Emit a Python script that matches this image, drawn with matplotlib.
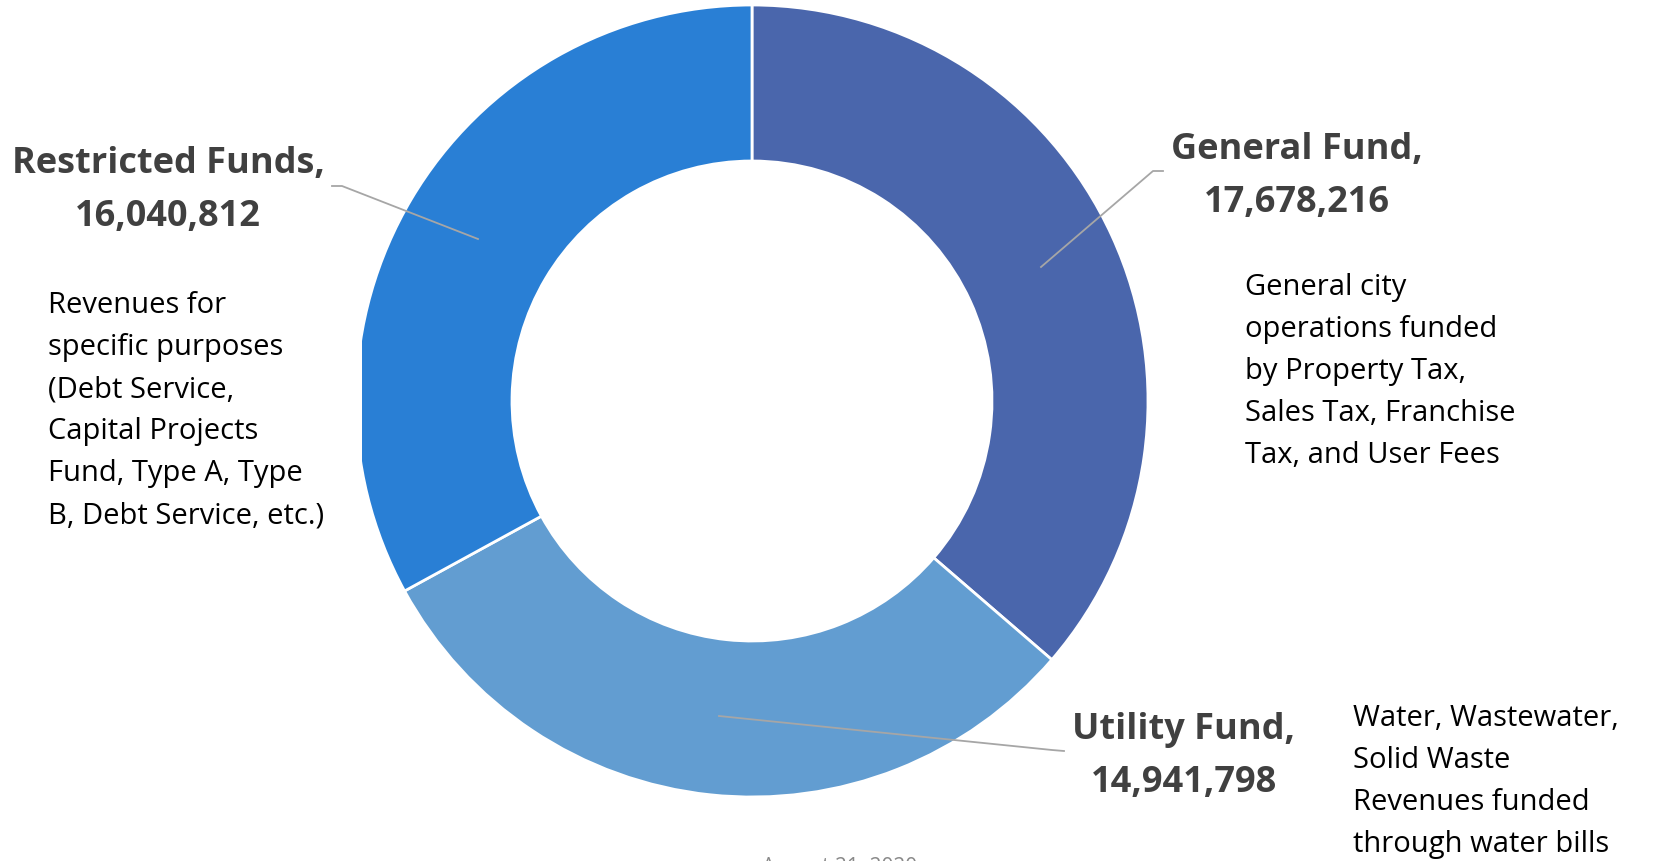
import matplotlib
matplotlib.use('Agg')
import matplotlib.pyplot as plt

# data
funds = ['General Fund', 'Utility Fund', 'Restricted Funds']
amounts = [17678216, 14941798, 16040812]
colors = ['#4A66AC', '#629DD1', '#297FD5']
descriptions = [
    ['General city', 'operations funded', 'by Property Tax,', 'Sales Tax, Franchise', 'Tax, and User Fees'],
    ['Water, Wastewater,', 'Solid Waste', 'Revenues funded', 'through water bills'],
    ['Revenues for', 'specific purposes', '(Debt Service,', 'Capital Projects', 'Fund, Type A, Type', 'B, Debt Service, etc.)'],
]
footer = 'August 21, 2020'

W, H = 1656, 861
FONT = 'Open Sans'
LABEL_COLOR = '#404040'
LEADER_COLOR = '#A6A6A6'

# layout in pixels from top-left
CENTER = (752, 401)
R_OUT, R_IN = 396, 240
CLIP_X = 362   # donut is cut off on the left in the original
label_pos = [(1297, 159), (1184, 739), (168, 173)]      # centre x, first baseline
desc_pos = [(1245, 295), (1353, 726), (48, 313)]        # left x, first baseline
leaders = [
    [(1041, 267), (1153, 171), (1163, 171)],
    [(719, 716), (1052, 750), (1064, 751)],
    [(478, 239), (342, 186), (332, 186)],
]


def fy(y):
    return H - y


fig = plt.figure(figsize=(W / 100, H / 100), dpi=100)
ax = fig.add_axes([CLIP_X / W, 0, 1 - CLIP_X / W, 1])

wedges, _ = ax.pie(amounts, colors=colors, startangle=90, counterclock=False,
                   center=(CENTER[0], fy(CENTER[1])), radius=R_OUT,
                   wedgeprops=dict(width=R_OUT - R_IN, edgecolor='white', linewidth=2))
for w in wedges:
    w.set_clip_on(True)
    w.set_clip_path(ax.patch)
ax.set_xlim(CLIP_X, W)
ax.set_ylim(0, H)
ax.set_aspect('auto')
ax.axis('off')

for i, name in enumerate(funds):
    pts = leaders[i]
    ax.plot([p[0] for p in pts], [fy(p[1]) for p in pts], color=LEADER_COLOR,
            lw=1.3, clip_on=False)

    cx, by = label_pos[i]
    for j, line in enumerate([f'{name},', f'{amounts[i]:,}']):
        ax.text(cx, fy(by + j * 53), line, ha='center', va='baseline',
                fontsize=26, fontweight='bold', color=LABEL_COLOR, family=FONT)

    lx, ly = desc_pos[i]
    for j, line in enumerate(descriptions[i]):
        ax.text(lx, fy(ly + j * 42), line, ha='left', va='baseline',
                fontsize=21, color='black', family=FONT)

ax.text(840, fy(857), footer, ha='center', va='top', fontsize=15,
        color='#898989', family=FONT)

plt.savefig('out.png', dpi=100)
